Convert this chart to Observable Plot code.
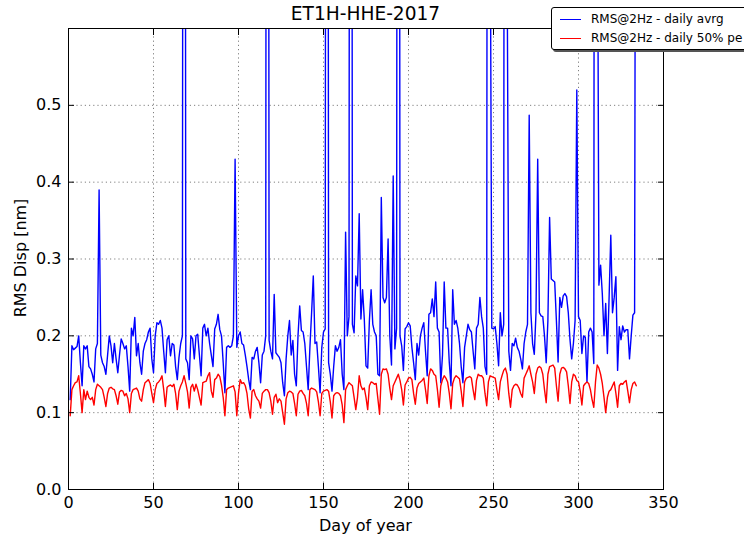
<!DOCTYPE html>
<html>
<head>
<meta charset="utf-8">
<script src="https://cdn.jsdelivr.net/npm/d3@7"></script>
<script src="https://cdn.jsdelivr.net/npm/@observablehq/plot@0.6"></script>
<style>
  html, body { margin: 0; padding: 0; background: #fff; overflow: hidden; }
  #wrap { position: relative; width: 744px; height: 544px; font-family: "DejaVu Sans", sans-serif; color: #000; }
  #wrap svg { position: absolute; left: 0; top: 0; }
  .title { position: absolute; left: 68px; width: 595px; top: 3px; text-align: center; font-size: 18.6px; }
  .xlabel { position: absolute; left: 68px; width: 595px; top: 516px; text-align: center; font-size: 16px; }
  .ylabel { position: absolute; left: 20px; top: 258px; transform: translate(-50%, -50%) rotate(-90deg); white-space: nowrap; font-size: 16px; }
  .legend { position: absolute; left: 551px; top: 7px; width: 230px; height: 41px; background: #fff;
            border: 1px solid #000; border-radius: 3px; box-shadow: 2px 2px 0 #555; font-size: 12px; }
  .legend .row { position: absolute; left: 8px; height: 18px; display: flex; align-items: center; white-space: nowrap; }
  .legend .swatch { width: 21px; height: 0; border-top: 1.3px solid; margin-right: 10px; }
</style>
</head>
<body>
<div id="wrap">
  <div class="title">ET1H-HHE-2017</div>
  <div class="xlabel">Day of year</div>
  <div class="ylabel">RMS Disp [nm]</div>
</div>
<script>
// Daily RMS displacement at 2 Hz, day-of-year 1..334
const blueAvg = [
  0.117, 0.187, 0.182, 0.184, 0.186, 0.200, 0.165,
  0.135, 0.187, 0.183, 0.187, 0.160, 0.157, 0.150,
  0.140, 0.183, 0.190, 0.390, 0.175, 0.165, 0.160,
  0.150, 0.175, 0.200, 0.187, 0.165, 0.190, 0.170,
  0.152, 0.175, 0.196, 0.190, 0.183, 0.187, 0.160,
  0.128, 0.210, 0.200, 0.224, 0.174, 0.190, 0.165,
  0.150, 0.180, 0.190, 0.195, 0.205, 0.210, 0.170,
  0.152, 0.200, 0.217, 0.215, 0.220, 0.210, 0.180,
  0.152, 0.195, 0.200, 0.174, 0.190, 0.188, 0.160,
  0.143, 0.172, 0.190, 0.200, 3.000, 0.170, 0.165,
  0.143, 0.200, 0.196, 0.170, 0.200, 0.202, 0.175,
  0.148, 0.210, 0.215, 0.200, 0.210, 0.190, 0.175,
  0.160, 0.209, 0.215, 0.228, 0.208, 0.200, 0.165,
  0.126, 0.185, 0.187, 0.185, 0.187, 0.200, 0.430,
  0.185, 0.200, 0.205, 0.190, 0.188, 0.175, 0.160,
  0.143, 0.130, 0.172, 0.170, 0.180, 0.185, 0.165,
  0.139, 0.175, 0.180, 0.200, 3.000, 0.194, 0.180,
  0.170, 0.254, 0.178, 0.175, 0.172, 0.165, 0.139,
  0.122, 0.170, 0.200, 0.220, 0.175, 0.194, 0.150,
  0.135, 0.200, 0.239, 0.207, 0.205, 0.190, 0.160,
  0.130, 0.185, 0.230, 0.278, 0.190, 0.192, 0.160,
  0.126, 0.185, 0.205, 0.209, 3.000, 0.165, 0.150,
  0.128, 0.160, 0.187, 0.180, 0.185, 0.195, 0.150,
  0.130, 0.335, 0.200, 0.225, 3.000, 0.215, 0.204,
  0.278, 0.265, 0.359, 0.222, 0.260, 0.222, 0.161,
  0.158, 0.220, 0.260, 0.215, 0.205, 0.200, 0.150,
  0.148, 0.380, 0.250, 0.243, 0.250, 0.326, 0.200,
  0.162, 0.408, 0.183, 0.210, 3.000, 0.200, 0.187,
  0.155, 0.209, 0.212, 0.217, 0.213, 0.185, 0.165,
  0.143, 0.190, 0.175, 0.200, 0.210, 0.217, 0.180,
  0.148, 0.228, 0.230, 0.248, 0.225, 0.270, 0.210,
  0.205, 0.139, 0.175, 0.270, 0.210, 0.210, 0.165,
  0.135, 0.260, 0.215, 0.220, 0.210, 0.190, 0.160,
  0.139, 0.185, 0.200, 0.215, 0.208, 0.205, 0.180,
  0.157, 0.210, 0.215, 0.250, 0.225, 0.210, 0.160,
  0.150, 3.000, 0.800, 0.210, 0.209, 0.212, 0.190,
  0.161, 0.230, 0.200, 0.215, 3.000, 0.700, 0.180,
  0.155, 0.190, 0.187, 0.197, 0.185, 0.180, 0.170,
  0.157, 0.190, 0.205, 0.215, 0.487, 0.230, 0.190,
  0.176, 0.230, 0.430, 0.230, 0.226, 0.225, 0.200,
  0.165, 0.220, 0.354, 0.274, 0.272, 0.270, 0.220,
  0.166, 0.250, 0.237, 0.252, 0.255, 0.251, 0.230,
  0.195, 0.170, 0.190, 0.220, 0.520, 0.225, 0.220,
  0.177, 0.200, 0.198, 0.140, 0.205, 0.210, 0.205,
  0.164, 3.000, 0.900, 0.266, 0.292, 0.255, 0.200,
  0.242, 0.177, 0.250, 0.331, 0.230, 0.250, 0.277,
  0.155, 0.212, 0.195, 0.213, 0.205, 0.208, 0.208,
  0.170, 0.200, 0.227, 0.230, 1.500
];

const red50 = [
  0.096, 0.130, 0.135, 0.139, 0.140, 0.148, 0.125,
  0.100, 0.130, 0.117, 0.128, 0.120, 0.117, 0.120,
  0.110, 0.130, 0.137, 0.135, 0.133, 0.130, 0.120,
  0.108, 0.125, 0.132, 0.133, 0.131, 0.130, 0.122,
  0.111, 0.127, 0.129, 0.128, 0.122, 0.125, 0.118,
  0.100, 0.125, 0.130, 0.131, 0.132, 0.128, 0.118,
  0.115, 0.130, 0.139, 0.141, 0.143, 0.138, 0.125,
  0.113, 0.130, 0.138, 0.140, 0.143, 0.148, 0.130,
  0.108, 0.133, 0.135, 0.136, 0.134, 0.137, 0.125,
  0.104, 0.128, 0.135, 0.140, 0.148, 0.138, 0.127,
  0.106, 0.133, 0.137, 0.128, 0.137, 0.130, 0.120,
  0.110, 0.139, 0.140, 0.141, 0.148, 0.152, 0.128,
  0.120, 0.143, 0.145, 0.150, 0.147, 0.136, 0.120,
  0.096, 0.130, 0.132, 0.133, 0.134, 0.135, 0.127,
  0.096, 0.125, 0.143, 0.138, 0.139, 0.135, 0.125,
  0.105, 0.093, 0.128, 0.130, 0.122, 0.118, 0.115,
  0.106, 0.125, 0.128, 0.130, 0.130, 0.126, 0.115,
  0.098, 0.120, 0.124, 0.113, 0.118, 0.115, 0.100,
  0.085, 0.118, 0.126, 0.128, 0.127, 0.125, 0.112,
  0.096, 0.124, 0.128, 0.129, 0.125, 0.122, 0.112,
  0.096, 0.130, 0.132, 0.131, 0.130, 0.127, 0.114,
  0.096, 0.125, 0.128, 0.129, 0.130, 0.128, 0.114,
  0.093, 0.122, 0.125, 0.126, 0.125, 0.122, 0.110,
  0.087, 0.130, 0.135, 0.139, 0.137, 0.135, 0.120,
  0.104, 0.120, 0.148, 0.135, 0.130, 0.132, 0.120,
  0.104, 0.135, 0.140, 0.139, 0.137, 0.138, 0.118,
  0.098, 0.150, 0.157, 0.156, 0.157, 0.150, 0.132,
  0.117, 0.135, 0.140, 0.145, 0.150, 0.142, 0.130,
  0.110, 0.136, 0.140, 0.145, 0.146, 0.143, 0.125,
  0.111, 0.132, 0.138, 0.140, 0.142, 0.145, 0.130,
  0.112, 0.148, 0.157, 0.155, 0.150, 0.148, 0.130,
  0.107, 0.135, 0.143, 0.148, 0.145, 0.140, 0.125,
  0.105, 0.138, 0.145, 0.148, 0.146, 0.144, 0.128,
  0.108, 0.140, 0.145, 0.146, 0.147, 0.145, 0.130,
  0.117, 0.142, 0.150, 0.148, 0.148, 0.145, 0.125,
  0.109, 0.140, 0.148, 0.147, 0.146, 0.145, 0.130,
  0.117, 0.140, 0.148, 0.155, 0.158, 0.150, 0.125,
  0.107, 0.130, 0.135, 0.137, 0.136, 0.132, 0.125,
  0.120, 0.145, 0.150, 0.155, 0.161, 0.150, 0.140,
  0.125, 0.150, 0.158, 0.160, 0.158, 0.150, 0.130,
  0.113, 0.150, 0.160, 0.161, 0.162, 0.158, 0.135,
  0.115, 0.150, 0.158, 0.159, 0.157, 0.153, 0.135,
  0.112, 0.140, 0.150, 0.148, 0.142, 0.140, 0.128,
  0.110, 0.135, 0.138, 0.140, 0.138, 0.130, 0.117,
  0.107, 0.140, 0.162, 0.158, 0.150, 0.138, 0.120,
  0.100, 0.120, 0.128, 0.130, 0.135, 0.140, 0.125,
  0.107, 0.135, 0.138, 0.137, 0.140, 0.142, 0.128,
  0.113, 0.130, 0.138, 0.140, 0.135
];

const days = blueAvg.map((_, i) => i + 1);
const xTicks = [0, 50, 100, 150, 200, 250, 300, 350];
const yTicks = [0.0, 0.1, 0.2, 0.3, 0.4, 0.5];
const seriesNames = ["RMS@2Hz - daily avrg", "RMS@2Hz - daily 50% pe"];
const seriesColors = ["#0000ff", "#ff0000"];

const blank = () => "";
const chart = Plot.plot({
  width: 744,
  height: 544,
  marginLeft: 68,
  marginRight: 81,
  marginTop: 28,
  marginBottom: 55,
  style: { fontFamily: "DejaVu Sans, sans-serif", fontSize: "16px", color: "#000", background: "transparent" },
  x: { domain: [0, 350] },
  y: { domain: [0, 0.6] },
  marks: [
    Plot.gridX(xTicks, { stroke: "#000", strokeOpacity: 0.5, strokeDasharray: "1.2,3" }),
    Plot.gridY(yTicks, { stroke: "#000", strokeOpacity: 0.5, strokeDasharray: "1.2,3" }),
    Plot.lineY(blueAvg, { x: (d, i) => days[i], y: d => d, stroke: seriesColors[0], strokeWidth: 1.4, clip: true }),
    Plot.lineY(red50, { x: (d, i) => days[i], y: d => d, stroke: seriesColors[1], strokeWidth: 1.4, clip: true }),
    Plot.frame({ stroke: "#000", strokeWidth: 1 }),
    // tick labels
    Plot.axisX(xTicks, { anchor: "bottom", tickSize: 0, tickPadding: 7, tickFormat: d => String(d), label: null }),
    Plot.axisY(yTicks, { anchor: "left", tickSize: 0, tickPadding: 7, tickFormat: d => d.toFixed(1), label: null }),
    // inward ticks on all four sides
    Plot.axisX(xTicks, { anchor: "bottom", tickSize: -6, tickFormat: blank, label: null }),
    Plot.axisX(xTicks, { anchor: "top", tickSize: -6, tickFormat: blank, label: null }),
    Plot.axisY(yTicks, { anchor: "left", tickSize: -6, tickFormat: blank, label: null }),
    Plot.axisY(yTicks, { anchor: "right", tickSize: -6, tickFormat: blank, label: null })
  ]
});
document.getElementById("wrap").prepend(chart);

// legend box
const legend = document.createElement("div");
legend.className = "legend";
seriesNames.forEach((name, i) => {
  const row = document.createElement("div");
  row.className = "row";
  row.style.top = (2 + i * 19) + "px";
  const sw = document.createElement("span");
  sw.className = "swatch";
  sw.style.borderTopColor = seriesColors[i];
  const tx = document.createElement("span");
  tx.textContent = name;
  row.append(sw, tx);
  legend.append(row);
});
document.getElementById("wrap").append(legend);
</script>
</body>
</html>
